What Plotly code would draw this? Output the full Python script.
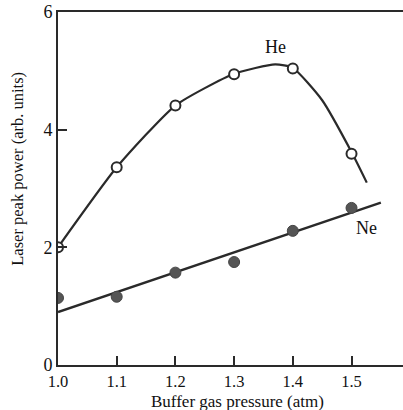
import plotly.graph_objects as go

pressure = [1.0, 1.1, 1.2, 1.3, 1.4, 1.5]
he_power = [2.0, 3.36, 4.41, 4.94, 5.04, 3.59]
ne_power = [1.14, 1.16, 1.57, 1.75, 2.28, 2.67]

# hand-drawn guide curves
he_curve_x = [1.0, 1.1, 1.2, 1.3, 1.37, 1.4, 1.45, 1.5, 1.526]
he_curve_y = [2.0, 3.36, 4.41, 4.95, 5.11, 5.05, 4.5, 3.62, 3.1]
ne_line_x = [1.0, 1.55]
ne_line_y = [0.9, 2.76]

xticks = [1.0, 1.1, 1.2, 1.3, 1.4, 1.5]
yticks = [0, 2, 4, 6]

ink = "#2a2a2a"
font = "Liberation Serif"

fig = go.Figure()
fig.add_trace(go.Scatter(x=he_curve_x, y=he_curve_y, mode="lines",
                         line=dict(color=ink, width=2.2, shape="spline", smoothing=0.55),
                         hoverinfo="skip", showlegend=False))
fig.add_trace(go.Scatter(x=ne_line_x, y=ne_line_y, mode="lines",
                         line=dict(color=ink, width=2.4), hoverinfo="skip", showlegend=False))
fig.add_trace(go.Scatter(x=pressure, y=he_power, mode="markers", name="He",
                         marker=dict(size=10, color="white", line=dict(color=ink, width=2)),
                         showlegend=False))
fig.add_trace(go.Scatter(x=pressure, y=ne_power, mode="markers", name="Ne",
                         marker=dict(size=11, color="#555555", line=dict(color="#444444", width=1)),
                         showlegend=False))

fig.add_annotation(x=1.37, y=5.4, text="He", showarrow=False,
                   font=dict(family=font, size=18, color="#111"))
fig.add_annotation(x=1.525, y=2.33, text="Ne", showarrow=False,
                   font=dict(family=font, size=18, color="#111"))

# axis titles
fig.add_annotation(xref="paper", yref="paper", x=(237 - 58) / 345, y=0,
                   text="Buffer gas pressure (atm)", showarrow=False,
                   xanchor="center", yanchor="middle", yshift=-36,
                   font=dict(family=font, size=17, color="#111"))
fig.add_annotation(xref="paper", yref="paper", x=0, y=(365 - 169) / 352.5,
                   text="Laser peak power (arb. units)", showarrow=False, textangle=-90,
                   xanchor="center", yanchor="middle", xshift=-40,
                   font=dict(family=font, size=16.5, color="#111"))

fig.update_layout(
    width=403, height=410,
    margin=dict(l=58, r=0, t=12, b=45),
    paper_bgcolor="white", plot_bgcolor="white",
    font=dict(family=font, size=16, color="#111"),
)
fig.update_xaxes(range=[1.0, 1.5877], tickvals=xticks, ticktext=[f"{v:.1f}" for v in xticks],
                 ticks="inside", ticklen=9, tickwidth=1.5, tickcolor=ink,
                 showline=True, linecolor=ink, linewidth=2, mirror=True,
                 showgrid=False, zeroline=False,
                 tickfont=dict(family=font, size=16.5))
fig.update_yaxes(range=[0, 6], tickvals=yticks, ticktext=[str(v) for v in yticks],
                 ticks="inside", ticklen=9, tickwidth=1.5, tickcolor=ink,
                 showline=True, linecolor=ink, linewidth=2, mirror=False,
                 showgrid=False, zeroline=False,
                 tickfont=dict(family=font, size=18))

fig.write_html("out.html")
